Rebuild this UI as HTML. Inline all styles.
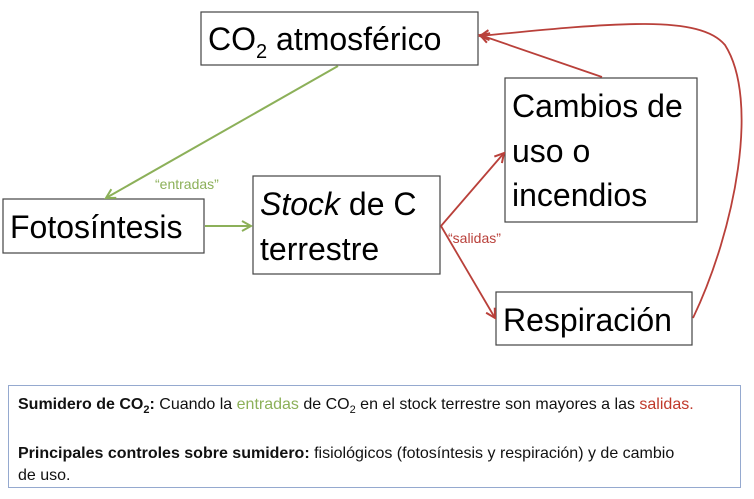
<!DOCTYPE html>
<html><head><meta charset="utf-8"><style>
body{margin:0;width:754px;height:499px;background:#fff;overflow:hidden;font-family:"Liberation Sans",sans-serif}
svg{position:absolute;left:0;top:0}
.note{position:absolute;left:8px;top:385px;width:712px;height:93px;border:1.5px solid #95a9cf;padding:8px 10px 0 9px;font-size:16px;line-height:22px;color:#111}
.g{color:#8cb059}.r{color:#c0392b}
</style></head><body>
<svg width="754" height="380" viewBox="0 0 754 380">
<defs>
<marker id="ag" markerWidth="12" markerHeight="12" refX="10" refY="6" orient="auto" markerUnits="userSpaceOnUse"><path d="M1,1 L10,6 L1,11" fill="none" stroke="#8cb059" stroke-width="2"/></marker>
<marker id="ar" markerWidth="12" markerHeight="12" refX="10" refY="6" orient="auto" markerUnits="userSpaceOnUse"><path d="M1,1 L10,6 L1,11" fill="none" stroke="#b9403a" stroke-width="2"/></marker>
</defs>
<g fill="#fff" stroke="#444" stroke-width="1.2">
<rect x="201" y="12" width="277" height="53"/>
<rect x="505" y="78" width="192" height="144"/>
<rect x="253" y="176" width="187" height="98"/>
<rect x="3" y="199" width="201" height="54"/>
<rect x="496" y="292" width="196" height="53"/>
</g>
<g stroke="#8cb059" stroke-width="2" fill="none">
<line x1="338" y1="66" x2="106" y2="198" marker-end="url(#ag)"/>
<line x1="205" y1="226" x2="251" y2="226" marker-end="url(#ag)"/>
</g>
<g stroke="#b9403a" stroke-width="1.8" fill="none">
<line x1="441" y1="226" x2="504" y2="153" marker-end="url(#ar)"/>
<line x1="441" y1="226" x2="495" y2="318" marker-end="url(#ar)"/>
<line x1="602" y1="77" x2="480" y2="35" marker-end="url(#ar)"/>
<path d="M693,318 C735,230 760,100 725,45 C700,15 620,22 480,36" marker-end="url(#ar)"/>
</g>
<g font-family="Liberation Sans Narrow, Liberation Sans, sans-serif" fill="#000">
<text x="208" y="50" font-size="32">CO<tspan font-size="20" dy="8">2</tspan><tspan dy="-8"> atmosférico</tspan></text>
<text x="512" y="117" font-size="32">Cambios de</text>
<text x="512" y="162" font-size="32">uso o</text>
<text x="512" y="206" font-size="32">incendios</text>
<text x="260" y="215" font-size="32"><tspan font-style="italic">Stock</tspan> de C</text>
<text x="260" y="260" font-size="32">terrestre</text>
<text x="10" y="238" font-size="32">Fotosíntesis</text>
<text x="503" y="331" font-size="32">Respiración</text>
<text x="155" y="189" font-size="14" fill="#8cb059">“entradas”</text>
<text x="448" y="243" font-size="14" fill="#b9403a">“salidas”</text>
</g>
</svg>
<div class="note"><b>Sumidero de CO<sub style="font-size:11px">2</sub>:</b> Cuando la <span class="g">entradas</span> de CO<sub style="font-size:11px">2</sub> en el stock terrestre son mayores a las <span class="r">salidas.</span><br><br><b>Principales controles sobre sumidero:</b> fisiológicos (fotosíntesis y respiración) y de cambio<br>de uso.</div>
</body></html>
